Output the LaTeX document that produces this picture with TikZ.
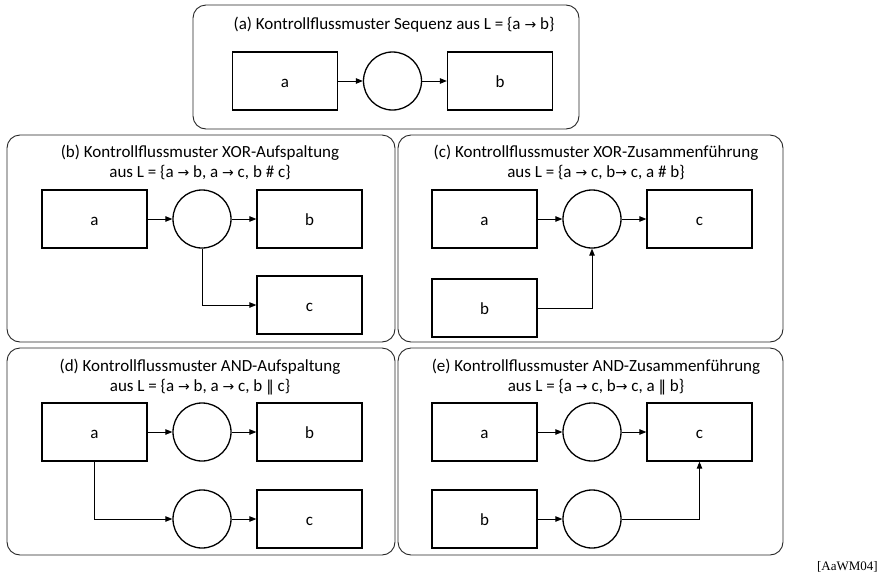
\documentclass[tikz,border=0pt]{standalone}
\usepackage{fontspec}
\setmainfont{Carlito}
\newfontfamily\symfont{DejaVu Sans}
\newfontfamily\reffont{Liberation Serif}
\usetikzlibrary{arrows.meta}
\newcommand{\ra}{{\symfont\fontsize{14}{16}\selectfont →}}
\newcommand{\dpar}{{\symfont\fontsize{15}{16}\selectfont ‖}}
\tikzset{
  panel/.style   = {draw=black!85, line width=0.9pt, rounded corners=13pt},
  task/.style    = {rectangle, draw, line width=1.3pt, minimum width=105pt, minimum height=58pt, inner sep=0, text height=12pt, text depth=0pt, font=\fontsize{17}{19}\selectfont},
  place/.style   = {circle, draw, line width=1.3pt, minimum size=58pt, inner sep=0},
  flow/.style    = {line width=0.9pt, -{Triangle[length=7pt,width=5.5pt]}},
  titel/.style   = {align=center, font=\fontsize{17}{20}\selectfont, inner sep=0}
}
\begin{document}
\begin{tikzpicture}[x=1pt, y=-1pt]
  \useasboundingbox (0,0) rectangle (881,579);

  % (a) Sequenz
  \draw[panel] (193,5) rectangle (579,129);
  \node[titel] (ta) at (394,25) {(a) Kontrollflussmuster Sequenz aus L = \{a \ra{} b\}};
  \node[task]  (aa) at (285,81) {a};
  \node[place] (ap) at (392.5,81) {};
  \node[task]  (ab) at (500,81) {b};
  \draw[flow] (aa) -- (ap);
  \draw[flow] (ap) -- (ab);

  % (b) XOR-Aufspaltung
  \draw[panel] (7,135) rectangle (395,342);
  \node[titel] (tb) at (200,162) {(b) Kontrollflussmuster XOR-Aufspaltung\\aus L = \{a \ra{} b, a \ra{} c, b \# c\}};
  \node[task]  (ba) at (94.5,219) {a};
  \node[place] (bp) at (202,219) {};
  \node[task]  (bb) at (309.5,219) {b};
  \node[task]  (bc) at (309.5,305) {c};
  \draw[flow] (ba) -- (bp);
  \draw[flow] (bp) -- (bb);
  \draw[flow] (bp.south) |- (bc.west);

  % (c) XOR-Zusammenfuehrung
  \draw[panel] (398,135) rectangle (783,342);
  \node[titel] (tc) at (596,162) {(c) Kontrollflussmuster XOR-Zusammenführung\\aus L = \{a \ra{} c, b\ra{} c, a \# b\}};
  \node[task]  (ca) at (484.5,219) {a};
  \node[place] (cp) at (592,219) {};
  \node[task]  (cc) at (699.5,219) {c};
  \node[task]  (cb) at (484.5,308) {b};
  \draw[flow] (ca) -- (cp);
  \draw[flow] (cp) -- (cc);
  \draw[flow] (cb.east) -| (cp.south);

  % (d) AND-Aufspaltung
  \draw[panel] (7,348) rectangle (395,555);
  \node[titel] (td) at (200,377) {(d) Kontrollflussmuster AND-Aufspaltung\\aus L = \{a \ra{} b, a \ra{} c, b \dpar{} c\}};
  \node[task]  (da) at (94.5,432) {a};
  \node[place] (dp) at (202,432) {};
  \node[task]  (db) at (309.5,432) {b};
  \node[place] (dq) at (202,519) {};
  \node[task]  (dc) at (309.5,519) {c};
  \draw[flow] (da) -- (dp);
  \draw[flow] (dp) -- (db);
  \draw[flow] (da.south) |- (dq.west);
  \draw[flow] (dq) -- (dc);

  % (e) AND-Zusammenfuehrung
  \draw[panel] (398,348) rectangle (783,555);
  \node[titel] (te) at (596,377) {(e) Kontrollflussmuster AND-Zusammenführung\\aus L = \{a \ra{} c, b\ra{} c, a \dpar{} b\}};
  \node[task]  (ea) at (484.5,432) {a};
  \node[place] (ep) at (592,432) {};
  \node[task]  (ec) at (699.5,432) {c};
  \node[task]  (eb) at (484.5,519) {b};
  \node[place] (eq) at (592,519) {};
  \draw[flow] (ea) -- (ep);
  \draw[flow] (ep) -- (ec);
  \draw[flow] (eb) -- (eq);
  \draw[flow] (eq.east) -| (ec.south);

  \node[anchor=east, font=\reffont\fontsize{13}{15}\selectfont, inner sep=0] (quelle) at (878,567) {[AaWM04]};
\end{tikzpicture}
\end{document}
